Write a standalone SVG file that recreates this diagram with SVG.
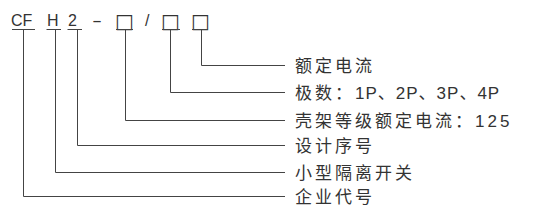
<svg xmlns="http://www.w3.org/2000/svg" width="534" height="224" viewBox="0 0 534 224">
<style>
.code{font-family:"Liberation Sans",Arial,sans-serif;font-size:16px;fill:#333}
.box{font-family:"DejaVu Sans",sans-serif;font-size:20px;fill:#333}
.lbl{font-family:"Liberation Sans","Noto Sans CJK SC",sans-serif;font-size:17px;fill:#333;letter-spacing:3px}
.tight{letter-spacing:1px}
.ln{fill:none;stroke:#444;stroke-width:1}
</style>
<rect width="534" height="224" fill="#fff"/>
<g id="code">
<text class="code" x="11" y="26">CF</text>
<text class="code" x="47" y="26">H</text>
<text class="code" x="68" y="26">2</text>
<text class="code" x="92" y="26" textLength="10" lengthAdjust="spacingAndGlyphs">-</text>
<text class="box" x="115" y="28">□</text>
<text class="code" x="145" y="26">/</text>
<text class="box" x="161" y="28">□</text>
<text class="box" x="191" y="28">□</text>
</g>
<g id="connectors">
<path class="ln" d="M12 29.5H35M46.5 29.5H61M67.5 29.5H82M116 29.5H133M162 29.5H180M192 29.5H208"/>
<path class="ln" d="M201.5 29.5V65.5H285"/>
<path class="ln" d="M170.5 29.5V92.5H285"/>
<path class="ln" d="M125.5 29.5V120.5H285"/>
<path class="ln" d="M77.5 29.5V145.5H285"/>
<path class="ln" d="M55.5 29.5V172.5H285"/>
<path class="ln" d="M23.5 29.5V196.5H285"/>
</g>
<g id="label-rated"><text class="lbl" x="295" y="72">额定电流</text></g>
<g id="label-poles"><text class="lbl" x="295" y="99">极数：<tspan class="tight">1P、2P、3P、4P</tspan></text></g>
<g id="label-frame"><text class="lbl" x="295" y="127">壳架等级额定电流：125</text></g>
<g id="label-design"><text class="lbl" x="295" y="152">设计序号</text></g>
<g id="label-type"><text class="lbl" x="295" y="179">小型隔离开关</text></g>
<g id="label-company"><text class="lbl" x="295" y="203">企业代号</text></g>
</svg>
